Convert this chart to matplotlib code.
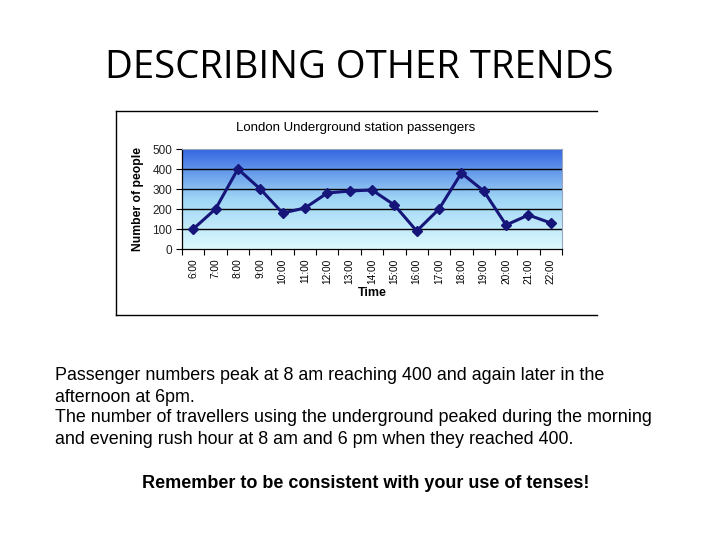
import matplotlib
matplotlib.use("Agg")
import matplotlib.pyplot as plt
import numpy as np
from matplotlib.colors import LinearSegmentedColormap
from matplotlib.lines import Line2D

# data
hours = ["6:00", "7:00", "8:00", "9:00", "10:00", "11:00", "12:00", "13:00", "14:00",
         "15:00", "16:00", "17:00", "18:00", "19:00", "20:00", "21:00", "22:00"]
passengers = [100, 200, 400, 300, 180, 205, 280, 290, 295,
              220, 90, 200, 380, 290, 120, 170, 130]
y_ticks = [0, 100, 200, 300, 400, 500]

page_title = "DESCRIBING OTHER TRENDS"
chart_title = "London Underground station passengers"
body_lines = [
    "Passenger numbers peak at 8 am reaching 400 and again later in the",
    "afternoon at 6pm.",
    "The number of travellers using the underground peaked during the morning",
    "and evening rush hour at 8 am and 6 pm when they reached 400.",
]
footer = "Remember to be consistent with your use of tenses!"

W, H = 720, 540
fig = plt.figure(figsize=(W / 100, H / 100), dpi=100)


def fx(px):
    return px / W


def fy(py):
    return 1 - py / H


# page title
fig.text(fx(359), fy(68), page_title, ha="center", va="center",
         fontsize=27.5, family="Open Sans", color="black")

# chart frame (no right edge in the original)
frame = dict(color="black", lw=1.0, transform=fig.transFigure)
fig.add_artist(Line2D([fx(116), fx(116)], [fy(111), fy(315)], **frame))
fig.add_artist(Line2D([fx(116), fx(597)], [fy(111), fy(111)], **frame))
fig.add_artist(Line2D([fx(116), fx(597)], [fy(315), fy(315)], **frame))

# plot area
ax = fig.add_axes([fx(182), fy(249), fx(562) - fx(182), fy(149) - fy(249)])
x = np.arange(len(hours))
ax.set_xlim(-0.5, len(hours) - 0.5)
ax.set_ylim(0, 500)

# blue gradient background
cmap = LinearSegmentedColormap.from_list("bg", ["#dcf9fd", "#9fd6f5", "#3566e2"])
grad = np.linspace(0, 1, 256).reshape(-1, 1)
ax.imshow(grad, cmap=cmap, origin="lower", aspect="auto",
          extent=[-0.5, len(hours) - 0.5, 0, 500], zorder=0)

for v in y_ticks[1:-1]:
    ax.axhline(v, color="black", lw=1.0, zorder=1)

ax.plot(x, passengers, color="#16167a", lw=2.2, marker="D", markersize=5.5, zorder=3)

ax.set_yticks(y_ticks)
ax.set_yticklabels([str(v) for v in y_ticks], fontsize=8.5, color="#222222",
                   family="Liberation Sans")
ax.set_xticks(x)
ax.set_xticklabels(hours, rotation=90, fontsize=7.3, family="Liberation Sans")
ax.set_xticks(np.arange(-0.5, len(hours)), minor=True)
ax.tick_params(axis="x", which="major", length=0, pad=7)
ax.tick_params(axis="x", which="minor", length=4, width=0.8, direction="out")
ax.tick_params(axis="y", length=4, width=0.8, direction="out", pad=3)

for side in ["top", "right"]:
    ax.spines[side].set_color("#9aa6c0")
    ax.spines[side].set_linewidth(0.8)
ax.spines["left"].set_linewidth(0.9)
ax.spines["bottom"].set_linewidth(0.9)

fig.text(fx(356), fy(128), chart_title, ha="center", va="center",
         fontsize=9.5, family="Liberation Sans")
fig.text(fx(138), fy(199), "Number of people", ha="center", va="center", rotation=90,
         fontsize=8.7, family="Liberation Sans", fontweight="bold")
fig.text(fx(372), fy(293), "Time", ha="center", va="center",
         fontsize=9, family="Liberation Sans", fontweight="bold")

# text under the chart
for i, line in enumerate(body_lines):
    fig.text(fx(55), fy(376 + 21 * i), line, ha="left", va="center",
             fontsize=12.9, family="Liberation Sans")
fig.text(fx(366), fy(484), footer, ha="center", va="center",
         fontsize=13, family="Liberation Sans", fontweight="bold")

fig.savefig("out.png", dpi=100)
